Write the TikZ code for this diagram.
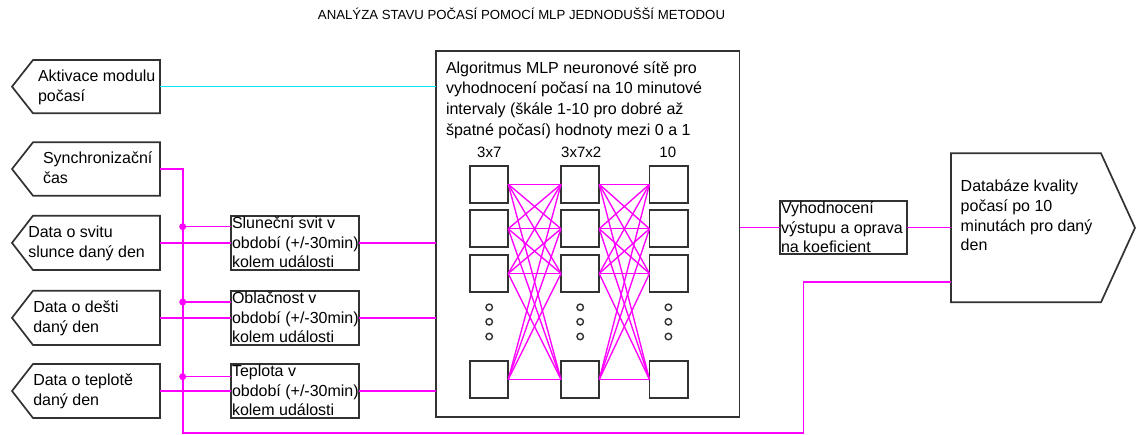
\documentclass[tikz,border=0pt]{standalone}
\usepackage{fontspec}
\setmainfont{Liberation Sans}
\newcommand{\mystrut}{\rule{0pt}{15pt}}
\definecolor{mag}{RGB}{255,0,255}
\definecolor{cyn}{RGB}{0,235,245}
\definecolor{ink}{RGB}{50,50,50}
\begin{document}
\begin{tikzpicture}[x=1pt,y=-1pt,
  ln/.style={draw=ink,line width=1.7pt,line join=miter},
  frame/.style={rectangle,inner sep=0pt,outer sep=0pt,anchor=north west},
  boxd/.style={frame,ln},
  neuron/.style={frame,ln,minimum width=38.2,minimum height=37},
  mconn/.style={draw=mag,line width=1.6pt},
  cconn/.style={draw=cyn,line width=1.6pt},
  txt/.style={inner sep=0pt,outer sep=0pt,anchor=north west,align=left,text=black},
  bodyfont/.style={font=\fontsize{16}{20}\selectfont},
  smallfont/.style={font=\fontsize{16}{19.5}\selectfont},
  jdot/.style={circle,fill=mag,inner sep=0pt,outer sep=0pt,minimum size=7pt},
  odot/.style={circle,draw=ink,line width=1.4pt,inner sep=0pt,minimum size=6.5pt}
]
\useasboundingbox (0,0) rectangle (1136,435);

% title
\node[anchor=base,font=\fontsize{13.2}{16}\selectfont] (title) at (521.5,19.5) {ANALÝZA STAVU POČASÍ POMOCÍ MLP JEDNODUŠŠÍ METODOU};

% input frames
\node[frame,minimum width=127,minimum height=53.3] (in1) at (33,60) {};
\node[frame,minimum width=127,minimum height=53.4] (in2) at (33,142.3) {};
\node[frame,minimum width=127,minimum height=54.3] (in3) at (33,215.7) {};
\node[frame,minimum width=127,minimum height=54.3] (in4) at (33,290.7) {};
\node[frame,minimum width=127,minimum height=54] (in5) at (33,364) {};
\foreach \n in {in1,in2,in3,in4,in5}
  \draw[ln] (\n.north east) -- (\n.north west) -- ([xshift=-21pt]\n.west) -- (\n.south west) -- (\n.south east) -- cycle;

% input texts
\node[txt,bodyfont] (t1) at (38,81.7-15) {\mystrut Aktivace modulu\\počasí};
\node[txt,bodyfont] (t2) at (43,164-15) {\mystrut Synchronizační\\čas};
\node[txt,bodyfont] (t3) at (28.3,237.7-15) {\mystrut Data o svitu\\slunce daný den};
\node[txt,bodyfont] (t4) at (33.3,313-15) {\mystrut Data o dešti\\daný den};
\node[txt,bodyfont] (t5) at (33.3,385.7-15) {\mystrut Data o teplotě\\daný den};

% small processing boxes
\node[boxd,minimum width=128,minimum height=54.3] (b1) at (231,215.7) {};
\node[boxd,minimum width=128,minimum height=54.3] (b2) at (231,290.7) {};
\node[boxd,minimum width=128,minimum height=53.7] (b3) at (231,364) {};
\node[txt,smallfont] (tb1) at (232,229-15) {\mystrut Sluneční svit v\\období (+/-30min)\\kolem události};
\node[txt,smallfont] (tb2) at (232,304-15) {\mystrut Oblačnost v\\období (+/-30min)\\kolem události};
\node[txt,smallfont] (tb3) at (232,376.7-15) {\mystrut Teplota v\\období (+/-30min)\\kolem události};

% MLP box
\node[boxd,minimum width=303.5,minimum height=366.3] (mlp) at (436,51) {};
\node[txt,font=\fontsize{16}{20.6}\selectfont] (tm) at (446,73.3-15) {\mystrut Algoritmus MLP neuronové sítě pro\\vyhodnocení počasí na 10 minutové\\intervaly (škále 1-10 pro dobré až\\špatné počasí) hodnoty mezi 0 a 1};
\node[anchor=base,inner sep=0pt,font=\fontsize{15}{18}\selectfont] (l1) at (489.3,158) {3x7};
\node[anchor=base,inner sep=0pt,font=\fontsize{15}{18}\selectfont] (l2) at (581.2,158) {3x7x2};
\node[anchor=base,inner sep=0pt,font=\fontsize{15}{18}\selectfont] (l3) at (667.8,158) {10};

% neurons
\foreach \c/\x in {1/470,2/561,3/649.5}{
  \foreach \r/\y in {1/165.7,2/210.3,3/255,4/361}{
    \node[neuron] (n\c\r) at (\x,\y) {};
  }
}
\foreach \a/\b in {1/2,2/3}{
  \foreach \r in {1,2,3,4}{
    \foreach \s in {1,2,3,4}{
      \draw[mconn,line width=1.35pt] (n\a\r.east) -- (n\b\s.west);
    }
  }
}
% ellipsis dots
\foreach \c/\x in {1/489.2,2/580.2,3/668.4}{
  \foreach \k/\y in {1/307.3,2/321.8,3/336.5}{
    \node[odot] (d\c\k) at (\x,\y) {};
  }
}

% evaluation box
\node[boxd,minimum width=127.3,minimum height=53.6] (ev) at (780,200.7) {};
\node[txt,font=\fontsize{16}{19.3}\selectfont] (tev) at (781,214-15) {\mystrut Vyhodnocení\\výstupu a oprava\\na koeficient};

% database frame
\node[frame,minimum width=150,minimum height=149] (db) at (951,153.3) {};
\draw[ln] (db.north west) -- (db.north east) -- ([xshift=34pt]db.east) -- (db.south east) -- (db.south west) -- cycle;
\node[txt,font=\fontsize{16}{19.7}\selectfont] (tdb) at (960.7,191.7-15) {\mystrut Databáze kvality\\počasí po 10\\minutách pro daný\\den};

% connectors
\draw[cconn] (in1.east) -- (in1.east -| mlp.west);
\coordinate (busL) at (182.7,433);
\coordinate (busR) at (803.3,433);
\coordinate (fb) at (951,282.3);
\draw[mconn] (in2.east) -| (busL) -- (busR) |- (fb);
\node[jdot] (j1) at (182.7,226.7) {};
\node[jdot] (j2) at (182.7,302) {};
\node[jdot] (j3) at (182.7,376.7) {};
\draw[mconn] (j1.center) -- (j1.center -| b1.west);
\draw[mconn] (j2.center) -- (j2.center -| b2.west);
\draw[mconn] (j3.center) -- (j3.center -| b3.west);
\draw[mconn] (in3.east) -- (in3.east -| b1.west);
\draw[mconn] (in4.east) -- (in4.east -| b2.west);
\draw[mconn] (in5.east) -- (in5.east -| b3.west);
\draw[mconn] (b1.east) -- (b1.east -| mlp.west);
\draw[mconn] (b2.east) -- (b2.east -| mlp.west);
\draw[mconn] (b3.east) -- (b3.east -| mlp.west);
\draw[mconn] (ev.west -| mlp.east) -- (ev.west);
\draw[mconn] (ev.east) -- (ev.east -| db.west);
\end{tikzpicture}
\end{document}
